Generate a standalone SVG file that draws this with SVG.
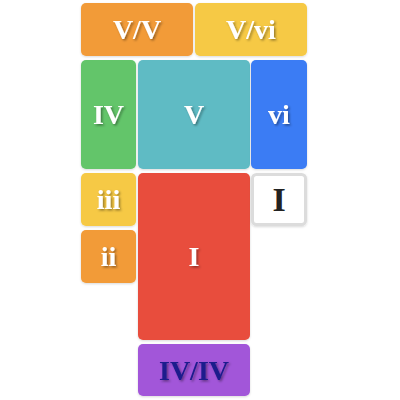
<svg xmlns="http://www.w3.org/2000/svg" width="400" height="400" viewBox="0 0 400 400">
<defs>
<filter id="sh" x="-20%" y="-20%" width="140%" height="140%">
<feDropShadow dx="1.5" dy="1.5" stdDeviation="1" flood-color="#000" flood-opacity="0.4"/>
</filter>
<filter id="bs" x="-10%" y="-10%" width="120%" height="120%">
<feDropShadow dx="0" dy="1" stdDeviation="1" flood-color="#000" flood-opacity="0.15"/>
</filter>
</defs>
<style>
text{font-family:"Liberation Serif","DejaVu Serif",serif;font-weight:bold;font-size:28px;text-anchor:middle;dominant-baseline:central;fill:#fff;filter:url(#sh)}
rect{filter:url(#bs)}
</style>
<rect width="400" height="400" fill="#fff" style="filter:none"/>
<g id="n-VV"><rect x="81" y="3" width="112" height="53" rx="5" fill="#F29B38"/><text x="137" y="29">V/V</text></g>
<g id="n-Vvi"><rect x="195" y="3" width="112" height="53" rx="5" fill="#F6C944"/><text x="251" y="29">V/vi</text></g>
<g id="n-IV"><rect x="81" y="60" width="55" height="109" rx="5" fill="#63C56B"/><text x="108.5" y="114">IV</text></g>
<g id="n-V"><rect x="138" y="60" width="112" height="109" rx="5" fill="#5FBBC4"/><text x="194" y="114">V</text></g>
<g id="n-vi"><rect x="251" y="60" width="56" height="109" rx="5" fill="#3A7CF4"/><text x="279" y="114">vi</text></g>
<g id="n-iii"><rect x="81" y="173" width="55" height="53" rx="5" fill="#F6C944"/><text x="108.5" y="199">iii</text></g>
<g id="n-I"><rect x="138" y="173" width="112" height="167" rx="5" fill="#E84D3C"/><text x="194" y="256">I</text></g>
<g id="n-I2"><rect x="252.5" y="174.5" width="53" height="50" rx="4" fill="#fff" stroke="#DCDCDC" stroke-width="3"/><text x="279" y="199" style="fill:#222;filter:none;font-size:34px">I</text></g>
<g id="n-ii"><rect x="81" y="230" width="55" height="53" rx="5" fill="#F29B38"/><text x="108.5" y="256">ii</text></g>
<g id="n-IVIV"><rect x="138" y="344" width="112" height="52" rx="5" fill="#A256D9"/><text x="194" y="370" style="fill:#1B1B8C">IV/IV</text></g>
<g id="connectors"></g>
</svg>
